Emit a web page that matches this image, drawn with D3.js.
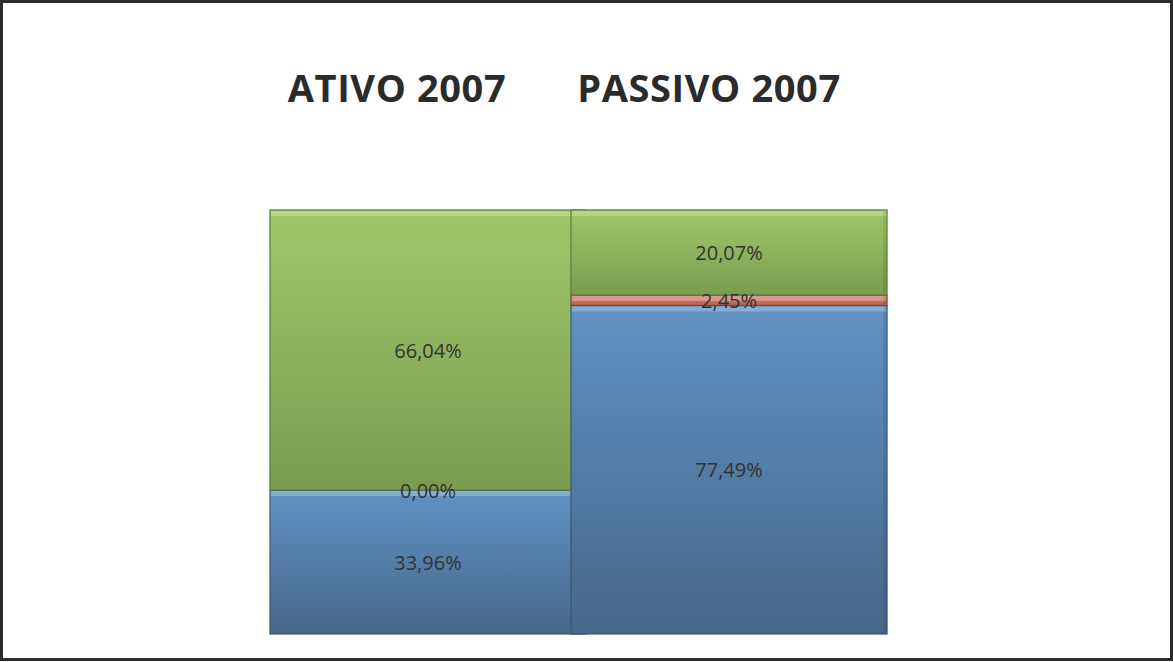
<!DOCTYPE html>
<html>
<head>
<meta charset="utf-8">
<script src="https://cdn.jsdelivr.net/npm/d3@7"></script>
<style>
  html, body { margin: 0; padding: 0; background: #fff; }
  svg { display: block; }
</style>
</head>
<body>
<svg id="chart" width="1173" height="662"></svg>
<script>
// Balance sheet composition, 2007 (percent of total)
const categories = ["ATIVO 2007", "PASSIVO 2007"];
const seriesNames = ["Circulante", "Realizável LP", "Permanente"];
const circulante = [33.96, 77.49];
const realizavel = [0.00, 2.45];
const permanente = [66.04, 20.07];
const labelText = [
  ["33,96%", "77,49%"],
  ["0,00%", "2,45%"],
  ["66,04%", "20,07%"]
];

const W = 1173, H = 662;
const svg = d3.select("#chart");

// frame
svg.append("rect")
  .attr("x", 1.5).attr("y", 1.5)
  .attr("width", W - 3).attr("height", H - 4)
  .attr("fill", "#fff").attr("stroke", "#2a2a2a").attr("stroke-width", 3);

const plot = { left: 270, right: 872, top: 210, bottom: 634 };

const x = d3.scaleBand().domain(categories).range([plot.left, plot.right]).paddingInner(0).paddingOuter(0);
const y = d3.scaleLinear().domain([0, 100]).range([plot.bottom, plot.top]);
const barW = x.bandwidth() * 1.05;

const table = categories.map((c, i) => ({
  cat: c,
  "Circulante": circulante[i],
  "Realizável LP": realizavel[i],
  "Permanente": permanente[i]
}));
const stack = d3.stack().keys(seriesNames)(table);

// top / bottom shade of each series
const shades = {
  "Circulante": ["#6092c4", "#476788"],
  "Realizável LP": ["#d4806e", "#b8604f"],
  "Permanente": ["#a0c86a", "#7a9c4f"]
};
const edge = {
  "Circulante": "#3b5670",
  "Realizável LP": "#8a3f33",
  "Permanente": "#5b7a3a"
};

const defs = svg.append("defs");
seriesNames.forEach((s, si) => {
  const g = defs.append("linearGradient")
    .attr("id", `g${si}`).attr("x1", 0).attr("y1", 0).attr("x2", 0).attr("y2", 1);
  g.append("stop").attr("offset", "0%").attr("stop-color", shades[s][0]);
  g.append("stop").attr("offset", "100%").attr("stop-color", shades[s][1]);
});

// bars: one group per category so the second bar overlaps the first
categories.forEach((c, ci) => {
  const g = svg.append("g");
  stack.forEach((layer, si) => {
    const d = layer[ci];
    const y0 = y(d[0]), y1 = y(d[1]);
    const h = y0 - y1;
    if (h <= 0.01) return;
    const bx = x(c);
    g.append("rect")
      .attr("x", bx).attr("y", y1)
      .attr("width", barW).attr("height", h)
      .attr("fill", `url(#g${si})`)
      .attr("stroke", edge[seriesNames[si]])
      .attr("stroke-width", 1.2);
    // bevel highlight on the top edge
    const bev = Math.min(5, h / 2);
    g.append("rect")
      .attr("x", bx + 1).attr("y", y1 + 1)
      .attr("width", barW - 2).attr("height", bev)
      .attr("fill", "#ffffff").attr("opacity", 0.25);
    // bevel shadow on the right edge
    g.append("rect")
      .attr("x", bx + barW - 4).attr("y", y1 + 1)
      .attr("width", 3).attr("height", Math.max(0, h - 2))
      .attr("fill", "#000").attr("opacity", 0.08);
  });
});

// value labels
stack.forEach((layer, si) => {
  categories.forEach((c, ci) => {
    const d = layer[ci];
    svg.append("text")
      .attr("x", x(c) + barW / 2)
      .attr("y", (y(d[0]) + y(d[1])) / 2)
      .attr("text-anchor", "middle")
      .attr("dominant-baseline", "central")
      .attr("font-family", "'Open Sans', sans-serif")
      .attr("font-size", 20)
      .attr("fill", "#333")
      .text(labelText[si][ci]);
  });
});

// category titles
const titleX = [397, 709];
categories.forEach((c, ci) => {
  svg.append("text")
    .attr("x", titleX[ci]).attr("y", 102)
    .attr("text-anchor", "middle")
    .attr("font-family", "'Open Sans', sans-serif")
    .attr("font-weight", 700)
    .attr("font-size", 38)
    .attr("letter-spacing", 0.6)
    .attr("fill", "#2b2b2b")
    .text(c);
});
</script>
</body>
</html>
